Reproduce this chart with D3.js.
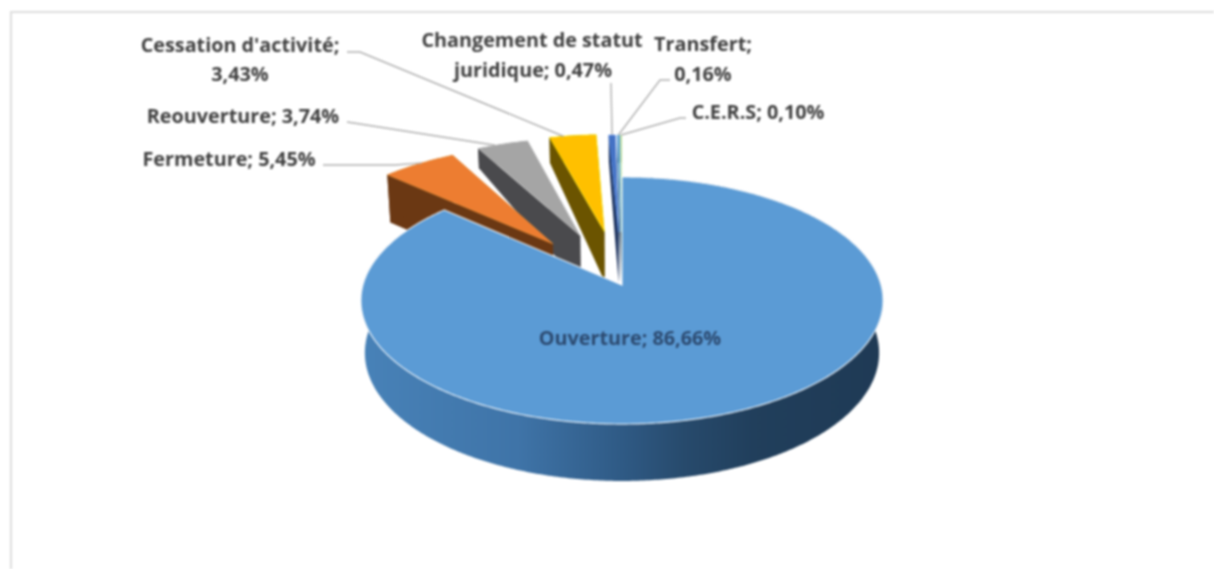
<!DOCTYPE html>
<html><head><meta charset="utf-8">
<script src="https://cdnjs.cloudflare.com/ajax/libs/d3/7.8.5/d3.min.js"></script>
<style>html,body{margin:0;padding:0;background:#fff;overflow:hidden}
svg{display:block;filter:blur(0.8px)}
text{font-family:"Open Sans",Lato,sans-serif;font-weight:700;font-size:19.8px;fill:#404040;text-anchor:middle}</style>
</head><body><svg id="c" width="1214" height="569"></svg>
<script>
// data
const categories = ["Ouverture","Fermeture","Reouverture","Cessation d'activité","Changement de statut juridique","Transfert","C.E.R.S"];
const values = [86.66,5.45,3.74,3.43,0.47,0.16,0.10];
const valueLabels = ["86,66%","5,45%","3,74%","3,43%","0,47%","0,16%","0,10%"];
// styling
const faceColors = ["#5b9bd5","#ed7d31","#a5a5a5","#ffc000","#4472c4","#5b9bd5","#a9d18e"];
const sideColors = ["url(#side)","#6b3813","#4a4a4d","#6b5400","#1f3560","#2a4a6a","#5a7a40"];
const labelColors = ["#2c4a70","#404040","#404040","#404040","#404040","#404040","#404040"];
const explosion = [0,0.45,0.46,0.47,0.46,0.46,0.46];
const outerDepth = [1,1,0.42,0.55,0.6,0.6,0.6];
const labelLines = [
 [["Ouverture; 86,66%",630,345]],
 [["Fermeture; 5,45%",229,166]],
 [["Reouverture; 3,74%",243,123]],
 [["Cessation d'activité;",240,52],["3,43%",240,81]],
 [["Changement de statut",532,47],["juridique; 0,47%",533,77]],
 [["Transfert;",703,51],["0,16%",703,81]],
 [["C.E.R.S; 0,10%",758,119]]
];
const leaders = [
 null,
 [[323,165],[395,165]],
 [[347,122],[360,124]],
 [[347,52],[360,52]],
 [[611,83]],
 [[670,80],[660,80]],
 [[686,118],[680,118]]
];
const anchorFraction = [0,0.55,0.35,0.3,0.5,0.5,0.5];

const svg = d3.select("#c");
const cx=622, cy=285, a=121.6, c=259, b=0.1255, d=52.7, k=0.015;
const project=(X,Y,z=0)=>{const w=1-b*Y+k*z;return [cx+c*X/w, cy+(a*Y+d*z)/w];};
const pol=(t,r=1)=>[r*Math.sin(t),-r*Math.cos(t)];
const line=d3.line();

const defs=svg.append("defs");
const g=defs.append("linearGradient").attr("id","side").attr("gradientUnits","userSpaceOnUse")
 .attr("x1",361).attr("x2",883).attr("y1",0).attr("y2",0);
[[0,"#4882b8"],[0.3,"#3f74a8"],[0.5,"#2f5a85"],[0.62,"#274a6c"],[0.75,"#213f5c"],[1,"#1f3a55"]]
 .forEach(s=>g.append("stop").attr("offset",s[0]).attr("stop-color",s[1]));

// frame
svg.append("path").attr("d","M11,569V12H1214").attr("fill","none").attr("stroke","#dedede").attr("stroke-width",2);

const arcs=d3.pie().value(v=>v).sort(null).startAngle(0).endAngle(2*Math.PI)(values);
const arcAngles=(s)=>{const n=Math.max(2,Math.ceil((s.endAngle-s.startAngle)/0.01));
 return d3.range(n+1).map(i=>s.startAngle+(s.endAngle-s.startAngle)*i/n);};

function drawSlice(s,i){
 const mid=(s.startAngle+s.endAngle)/2,[mx,my]=pol(mid,explosion[i]);
 const pt=(t,r,z)=>{const [x,y]=pol(t,r);return project(mx+x,my+y,z);};
 const ang=arcAngles(s);
 const topArc=ang.map(t=>pt(t,1,0));
 const botArc=ang.map(t=>pt(t,1,outerDepth[i]));
 const apexT=project(mx,my,0), apexB=project(mx,my,1);
 const gs=svg.append("g");
 if(i===0){
  gs.append("path").attr("d",line(topArc.concat(botArc.slice().reverse()))+"Z").attr("fill",sideColors[0]);
 } else {
  [[topArc[0],botArc[0]],[topArc[topArc.length-1],botArc[botArc.length-1]]].forEach(e=>{
   gs.append("path").attr("d",line([apexT,e[0],e[1],apexB])+"Z").attr("fill",sideColors[i]);
  });
  gs.append("path").attr("d",line(topArc.concat(botArc.slice().reverse()))+"Z").attr("fill",sideColors[i]);
 }
 gs.append("path").attr("d",line([apexT].concat(topArc))+"Z").attr("fill",faceColors[i])
  .attr("stroke",i===0?"#ffffff":d3.color(faceColors[i]).brighter(0.8)).attr("stroke-width",i===0?1.2:0.6).attr("stroke-opacity",0.8);
}
// back slices first, main pie last
[6,5,4,3,2,1,0].forEach(i=>drawSlice(arcs[i],i));

// leader lines
leaders.forEach((l,i)=>{
 if(!l)return;
 const s=arcs[i],mid=s.startAngle+(s.endAngle-s.startAngle)*(i>3?0.5:anchorFraction[i]);
 const [mx,my]=pol((s.startAngle+s.endAngle)/2,explosion[i]);
 const [x,y]=pol(mid);
 const end=project(mx+x,my+y,0);
 svg.append("path").attr("d",line(l.concat([end]))).attr("fill","none").attr("stroke","#b0b0b0").attr("stroke-width",1.4);
});

// labels
labelLines.forEach((ls,i)=>ls.forEach(t=>svg.append("text").attr("x",t[1]).attr("y",t[2]).style("fill",labelColors[i]).text(t[0])));
</script></body></html>
